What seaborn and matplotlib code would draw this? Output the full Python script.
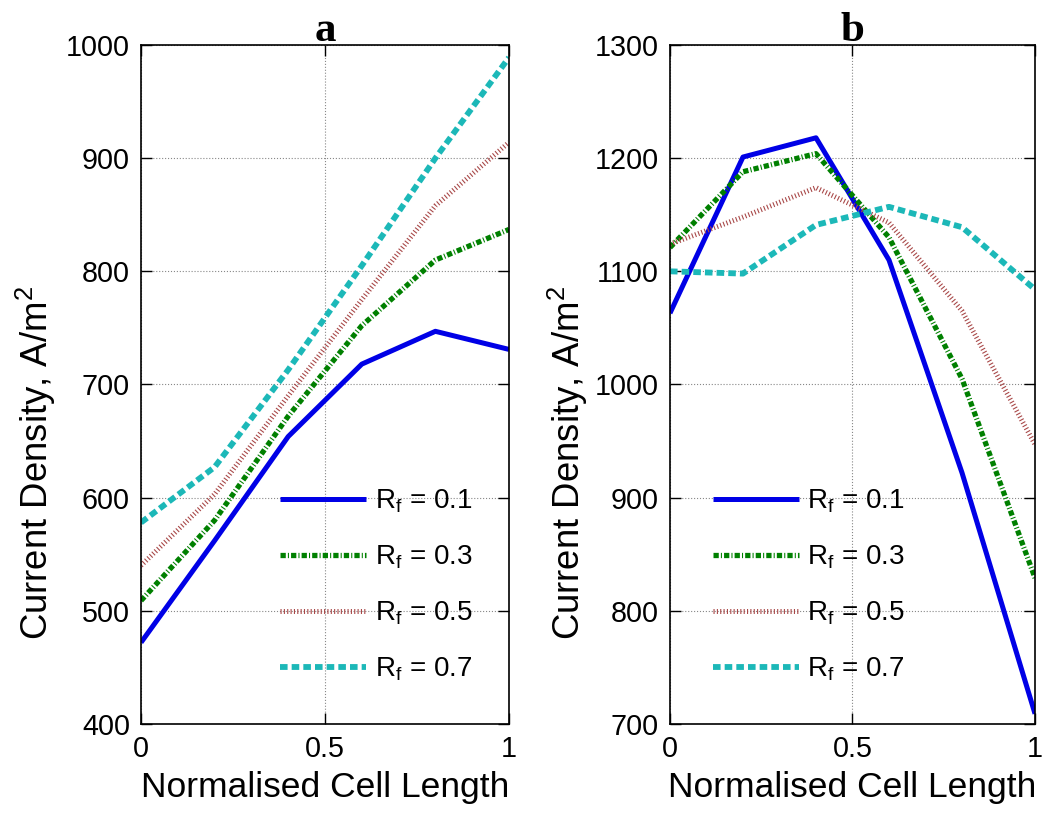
import numpy as np
import pandas as pd
import matplotlib
matplotlib.use("Agg")
import matplotlib.pyplot as plt
import seaborn as sns

# ---- data ----
x_pos = [0.0, 0.2, 0.4, 0.6, 0.8, 1.0]
rf_labels = ["0.1", "0.3", "0.5", "0.7"]

a_rf01 = [472, 562, 654, 718, 747, 731]
a_rf03 = [509, 580, 672, 752, 810, 837]
a_rf05 = [540, 603, 690, 775, 858, 914]
a_rf07 = [578, 627, 713, 805, 900, 989]

b_rf01 = [1063, 1201, 1218, 1110, 922, 709]
b_rf03 = [1121, 1188, 1204, 1130, 1005, 829]
b_rf05 = [1124, 1148, 1174, 1143, 1065, 947]
b_rf07 = [1100, 1098, 1141, 1157, 1139, 1084]

a_yticks = [400, 500, 600, 700, 800, 900, 1000]
b_yticks = [700, 800, 900, 1000, 1100, 1200, 1300]
x_ticks = [0, 0.5, 1]
x_ticklabels = ["0", "0.5", "1"]
panel_titles = ["a", "b"]

# ---- style ----
sns.set_style("ticks")
plt.rcParams['font.family'] = ['Liberation Sans', 'DejaVu Sans']
plt.rcParams['mathtext.fontset'] = 'custom'
plt.rcParams['mathtext.rm'] = 'Liberation Sans'
plt.rcParams['text.color'] = 'black'
plt.rcParams['axes.labelcolor'] = 'black'

colors = ["#0000e6", "#008000", "#a84848", "#1cb8b8"]
widths = [3.6, 3.8, 3.6, 4.2]
styles = ["-", (0, (1.0, 0.4, 0.2, 0.4)), (0, (0.22, 0.45)), (0, (1.3, 0.7))]

fig = plt.figure(figsize=(10.46, 8.14), dpi=100)
ax_a = fig.add_axes([0.1348, 0.1106, 0.3518, 0.8341])
ax_b = fig.add_axes([0.6405, 0.1106, 0.3490, 0.8341])

panels = [
    (ax_a, [a_rf01, a_rf03, a_rf05, a_rf07], a_yticks, 0.378, -0.225),
    (ax_b, [b_rf01, b_rf03, b_rf05, b_rf07], b_yticks, 0.118, -0.219),
]

for i, (ax, series, yt, leg_x, ylab_x) in enumerate(panels):
    for vals, lab, c, lw, ls in zip(series, rf_labels, colors, widths, styles):
        df = pd.DataFrame({"x": x_pos, "y": vals})
        sns.lineplot(data=df, x="x", y="y", ax=ax, color=c, lw=lw,
                     linestyle=ls, label=r"$\mathregular{R_f}$ = " + lab,
                     solid_capstyle="butt", dash_capstyle="butt")
    ax.set_xlim(0, 1)
    ax.set_ylim(yt[0], yt[-1])
    ax.set_xticks(x_ticks)
    ax.set_xticklabels(x_ticklabels)
    ax.set_yticks(yt)
    ax.tick_params(direction="in", length=8, width=1, top=True, right=True,
                   labelsize=20.7, pad=8, colors="black", labelcolor="black")
    ax.grid(True, linestyle=":", color="#888888", lw=0.8)
    for sp in ax.spines.values():
        sp.set_visible(True)
        sp.set_linewidth(1.2)
        sp.set_color("black")
    ax.set_xlabel("Normalised Cell Length", fontsize=25.5, labelpad=6)
    ax.set_ylabel(r"Current Density, A/m$\mathregular{^2}$", fontsize=26.3)
    ax.yaxis.set_label_coords(ylab_x, 0.385)
    ax.set_title(panel_titles[i], fontsize=31, fontweight="bold",
                 family="Liberation Serif", pad=3)
    ax.legend(loc="lower left", bbox_to_anchor=(leg_x, 0.06), frameon=False,
              fontsize=20, handlelength=3.1, handletextpad=0.3,
              labelspacing=1.03, borderpad=0, borderaxespad=0)

fig.savefig("out.png", dpi=100)
